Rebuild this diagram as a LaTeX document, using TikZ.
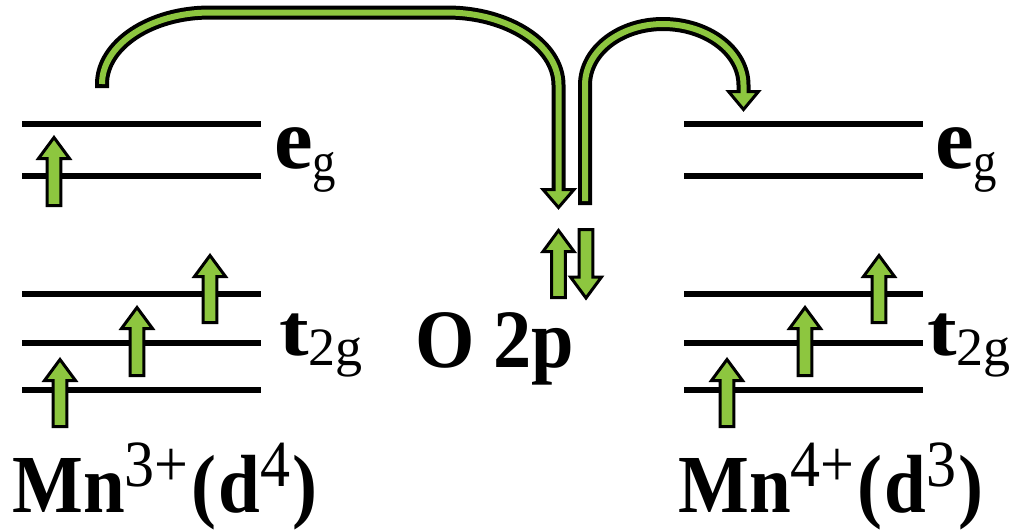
\documentclass[tikz,border=0pt]{standalone}
\usepackage{fontspec}
\setmainfont{Liberation Serif}
\definecolor{spingreen}{RGB}{141,198,63}
\newcommand\spinup[3]{\draw[spinbox] ({#1-6.8},#3) -- ({#1-6.8},{#2+21}) -- ({#1-15.5},{#2+21}) -- (#1,#2) -- ({#1+15.5},{#2+21}) -- ({#1+6.8},{#2+21}) -- ({#1+6.8},#3) -- cycle;}
\newcommand\spindown[3]{\draw[spinbox] ({#1-6.8},#2) -- ({#1-6.8},{#3-21}) -- ({#1-15.5},{#3-21}) -- (#1,#3) -- ({#1+15.5},{#3-21}) -- ({#1+6.8},{#3-21}) -- ({#1+6.8},#2) -- cycle;}
\newcommand\supnum[1]{\raisebox{23pt}{\mdseries\fontsize{60}{60}\selectfont #1}}
\newcommand\ionlabel[2]{\scalebox{1}[1.1]{\fontsize{75}{75}\selectfont\bfseries Mn\supnum{#1}\kern3pt(\kern2pt d\supnum{#2}\kern2pt)}}
\newcommand\eglabel{\fontsize{87}{87}\selectfont\bfseries e\raisebox{-12pt}{\mdseries\fontsize{55}{55}\selectfont\scalebox{0.85}[1]{g}}}
\newcommand\tglabel{\fontsize{74}{74}\selectfont\bfseries\scalebox{1.2}[1]{t}\raisebox{-10pt}{\mdseries\fontsize{54}{54}\selectfont 2g}}
\begin{document}
\begin{tikzpicture}[x=1pt,y=-1pt,
  level/.style={line width=6pt, black},
  spinbox/.style={fill=spingreen, draw=black, line width=3pt, miter limit=10},
  hopout/.style={line width=14pt, black},
  hopin/.style={line width=6pt, spingreen},
  lbl/.style={anchor=base west, inner sep=0pt}]
\useasboundingbox (0,0) rectangle (1019,531);
% levels
\foreach \y in {124,176,294,343,390} {
  \draw[level] (22,\y) -- (261,\y);
  \draw[level] (684,\y) -- (923,\y);
}
% spins left
\spinup{54}{137.5}{205.5}
\spinup{60}{359.5}{426.5}
\spinup{137}{307.5}{375.5}
\spinup{210}{255.5}{322.5}
% spins right
\spinup{727}{359.5}{426.5}
\spinup{805}{307.5}{375.5}
\spinup{879}{255.5}{322.5}
% O 2p
\spinup{558.5}{230.5}{297.5}
\spindown{586}{229.5}{298}
% big hopping arrows
\draw[hopout] (102,88) -- (102,84) .. controls (102,45) and (150,12.5) .. (210,12.5) -- (447,12.5) .. controls (508,12.5) and (558.5,45) .. (558.5,85) -- (558.5,191);
\draw[spinbox] (543,189.5) -- (558.5,207.5) -- (574,189.5) -- cycle;
\draw[hopin] (102,84) .. controls (102,45) and (150,12.5) .. (210,12.5) -- (447,12.5) .. controls (508,12.5) and (558.5,45) .. (558.5,85) -- (558.5,193);
\draw[hopout] (585,205) -- (585,85) .. controls (585,51) and (620,24) .. (663,24) .. controls (707,24) and (743.5,51) .. (743.5,85) -- (743.5,93);
\draw[spinbox] (728.5,91.5) -- (743.5,109.5) -- (758.5,91.5) -- cycle;
\draw[hopin] (585,201) -- (585,85) .. controls (585,51) and (620,24) .. (663,24) .. controls (707,24) and (743.5,51) .. (743.5,85) -- (743.5,95);
% labels
\node[lbl] (egL) at (274,168) {\eglabel};
\node[lbl] (egR) at (935,168) {\eglabel};
\node[lbl] (tL) at (279,355) {\tglabel};
\node[lbl] (tR) at (927,355) {\tglabel};
\node[lbl] (O) at (415,367) {\scalebox{0.92}[1]{\fontsize{83}{83}\selectfont\bfseries O 2p}};
\node[lbl] (MnL) at (12,512) {\ionlabel{3+}{4}};
\node[lbl] (MnR) at (678,512) {\ionlabel{4+}{3}};
\end{tikzpicture}
\end{document}
